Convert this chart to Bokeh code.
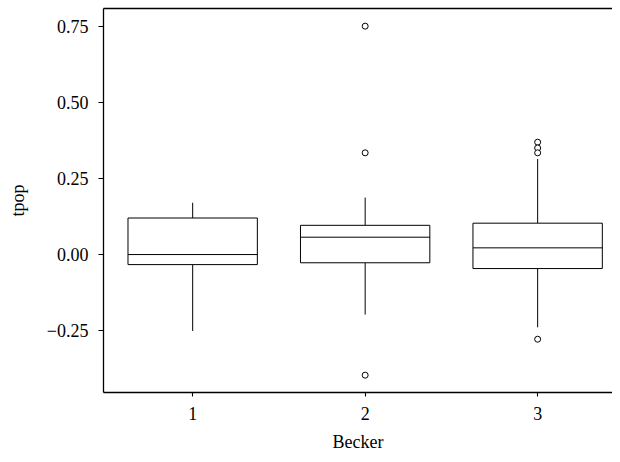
from bokeh.plotting import figure
from bokeh.models import Range1d, FixedTicker, LinearAxis, CustomJSTickFormatter, ColumnDataSource
from bokeh.embed import file_html
from bokeh.resources import INLINE

# ---- data ----
groups = [1, 2, 3]
group_labels = ["1", "2", "3"]
q1 = [-0.033, -0.027, -0.046]
median = [0.000, 0.057, 0.022]
q3 = [0.120, 0.096, 0.103]
whisker_low = [-0.251, -0.197, -0.239]
whisker_high = [0.170, 0.187, 0.314]
outlier_group = [2, 2, 2, 3, 3, 3, 3]
outlier_value = [0.750, 0.334, -0.396, 0.369, 0.350, 0.334, -0.278]
y_ticks = [-0.25, 0.0, 0.25, 0.50, 0.75]

box_width = 0.75
FONT = "Liberation Serif"

p = figure(width=612, height=454, output_backend="svg", toolbar_location=None,
           x_range=Range1d(0.483, 3.434), y_range=Range1d(-0.453, 0.808),
           min_border_left=103, min_border_right=0, min_border_top=8,
           min_border_bottom=62,
           x_axis_label="Becker", y_axis_label="tpop")

p.outline_line_color = None
p.grid.visible = False
p.background_fill_color = "white"
p.border_fill_color = "white"

src = ColumnDataSource(dict(x=groups, q1=q1, med=median, q3=q3,
                            lo=whisker_low, hi=whisker_high,
                            left=[g - box_width / 2 for g in groups],
                            right=[g + box_width / 2 for g in groups]))
# whiskers
p.segment(x0="x", y0="q3", x1="x", y1="hi", source=src, line_color="black", line_width=1)
p.segment(x0="x", y0="lo", x1="x", y1="q1", source=src, line_color="black", line_width=1)
# boxes
p.quad(left="left", right="right", bottom="q1", top="q3", source=src,
       fill_color="white", line_color="black", line_width=1)
# medians
p.segment(x0="left", y0="med", x1="right", y1="med", source=src, line_color="black", line_width=1)
# outliers
p.scatter(x=outlier_group, y=outlier_value, marker="circle", size=6,
          fill_color="white", line_color="black", line_width=1)

for ax in (p.xaxis[0], p.yaxis[0]):
    ax.axis_line_color = "black"
    ax.axis_line_width = 1.3
    ax.major_tick_line_color = "black"
    ax.major_tick_line_width = 1.1
    ax.major_tick_out = 5
    ax.major_tick_in = 0
    ax.minor_tick_line_color = None
    ax.major_label_text_font = FONT
    ax.major_label_text_font_size = "18px"
    ax.major_label_text_color = "black"
    ax.axis_label_text_font = FONT
    ax.axis_label_text_font_size = "18px"
    ax.axis_label_text_font_style = "normal"
    ax.axis_label_text_color = "black"

p.xaxis[0].ticker = FixedTicker(ticks=groups)
p.xaxis[0].major_tick_out = 4
p.xaxis[0].major_label_overrides = {g: lab for g, lab in zip(groups, group_labels)}
p.xaxis[0].major_label_standoff = 10
p.xaxis[0].axis_label_standoff = 9

p.yaxis[0].ticker = FixedTicker(ticks=y_ticks)
p.yaxis[0].formatter = CustomJSTickFormatter(
    code="return (tick < 0 ? '\u2212' : '') + Math.abs(tick).toFixed(2);")
p.yaxis[0].major_label_standoff = 10
p.yaxis[0].axis_label_standoff = 16

# top border line (right border is clipped in the reference)
top = LinearAxis(ticker=FixedTicker(ticks=[]), axis_line_color="black", axis_line_width=1.3,
                 major_tick_line_color=None, minor_tick_line_color=None,
                 major_label_text_font_size="0px", major_label_standoff=0)
p.add_layout(top, "above")

open("out.html", "w").write(file_html(p, INLINE))
